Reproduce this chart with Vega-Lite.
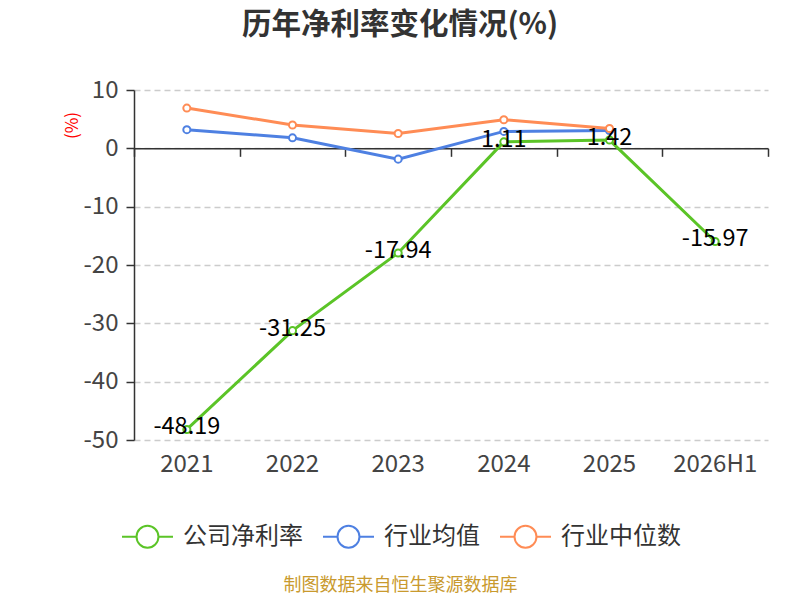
{
  "$schema": "https://vega.github.io/schema/vega-lite/v6.json",
  "width": 634,
  "height": 350,
  "autosize": {"type": "none"},
  "padding": {"left": 134, "top": 90, "right": 32, "bottom": 160},
  "config": {
    "font": "Noto Sans CJK SC",
    "view": {"stroke": null}
  },
  "title": {
    "text": "历年净利率变化情况(%)",
    "fontSize": 29.5,
    "fontWeight": "bold",
    "color": "#333333",
    "anchor": "middle",
    "frame": "group",
    "dx": -51,
    "offset": 38
  },
  "data": {
    "values": [
      {"year": "2021", "series": "公司净利率", "value": -48.19},
      {"year": "2022", "series": "公司净利率", "value": -31.25},
      {"year": "2023", "series": "公司净利率", "value": -17.94},
      {"year": "2024", "series": "公司净利率", "value": 1.11},
      {"year": "2025", "series": "公司净利率", "value": 1.42},
      {"year": "2026H1", "series": "公司净利率", "value": -15.97},
      {"year": "2021", "series": "行业均值", "value": 3.2},
      {"year": "2022", "series": "行业均值", "value": 1.8},
      {"year": "2023", "series": "行业均值", "value": -1.85},
      {"year": "2024", "series": "行业均值", "value": 2.9},
      {"year": "2025", "series": "行业均值", "value": 3.05},
      {"year": "2021", "series": "行业中位数", "value": 6.9},
      {"year": "2022", "series": "行业中位数", "value": 4.0},
      {"year": "2023", "series": "行业中位数", "value": 2.55},
      {"year": "2024", "series": "行业中位数", "value": 4.9},
      {"year": "2025", "series": "行业中位数", "value": 3.4}
    ]
  },
  "layer": [
    {
      "mark": {"type": "line", "strokeWidth": 3},
      "encoding": {
        "x": {
          "field": "year",
          "type": "nominal",
          "sort": null,
          "scale": {"type": "band", "paddingInner": 0, "paddingOuter": 0},
          "axis": {
            "orient": "bottom",
            "domain": false,
            "ticks": false,
            "grid": false,
            "labelAngle": 0,
            "labelFontSize": 24,
            "labelColor": "#444444",
            "labelPadding": 12,
            "title": "制图数据来自恒生聚源数据库",
            "titleColor": "#C99A2E",
            "titleFontSize": 18,
            "titleFontWeight": "normal",
            "titleX": 266,
            "titleY": 136,
            "titleAlign": "center",
            "titleBaseline": "top"
          }
        },
        "y": {
          "field": "value",
          "type": "quantitative",
          "scale": {"domain": [-50, 10], "nice": false, "zero": false},
          "axis": {
            "values": [10, 0, -10, -20, -30, -40, -50],
            "labelExpr": "replace(datum.label, '−', '-')",
            "domain": true,
            "domainColor": "#333333",
            "domainWidth": 1.5,
            "ticks": true,
            "tickSize": 8,
            "tickColor": "#333333",
            "tickWidth": 1.5,
            "labelFontSize": 24,
            "labelColor": "#444444",
            "labelPadding": 8,
            "grid": true,
            "gridDash": [6, 4],
            "gridColor": "#cccccc",
            "gridWidth": 1.5,
            "title": "(%)",
            "titleColor": "red",
            "titleFontSize": 17,
            "titleFontWeight": "normal",
            "titleX": -62,
            "titleY": 35,
            "titleAlign": "center",
            "titleBaseline": "middle"
          }
        },
        "color": {
          "field": "series",
          "type": "nominal",
          "sort": ["公司净利率", "行业均值", "行业中位数"],
          "scale": {
            "domain": ["公司净利率", "行业均值", "行业中位数"],
            "range": ["#5BC427", "#4E80E2", "#FF8C55"]
          },
          "legend": {
            "orient": "none",
            "legendX": -13,
            "legendY": 420,
            "direction": "horizontal",
            "gridAlign": "each",
            "title": null,
            "padding": 0,
            "labelFontSize": 24,
            "labelColor": "#333333",
            "labelOffset": 9,
            "columnPadding": 16,
            "symbolType": "M-1,0L-0.43,0M0.43,0L1,0M0.43,0A0.43,0.43,0,1,1,-0.43,0A0.43,0.43,0,1,1,0.43,0",
            "symbolSize": 2601,
            "symbolStrokeWidth": 2,
            "symbolFillColor": "white"
          }
        }
      }
    },
    {
      "mark": {"type": "point", "filled": false, "fill": "white", "size": 50, "strokeWidth": 2, "opacity": 1},
      "encoding": {
        "x": {
          "field": "year",
          "type": "nominal",
          "sort": null,
          "axis": {
            "orient": "top",
            "offset": -58.33,
            "labels": false,
            "domain": true,
            "domainColor": "#333333",
            "domainWidth": 1.5,
            "ticks": true,
            "tickBand": "extent",
            "tickSize": -8,
            "tickColor": "#333333",
            "tickWidth": 1.5,
            "grid": false,
            "title": null
          }
        },
        "y": {"field": "value", "type": "quantitative"},
        "color": {"field": "series", "type": "nominal"}
      }
    },
    {
      "transform": [{"filter": "datum.series === '公司净利率'"}],
      "mark": {"type": "text", "fontSize": 23.5, "color": "black", "dy": -2},
      "encoding": {
        "x": {"field": "year", "type": "nominal", "sort": null, "axis": null},
        "y": {"field": "value", "type": "quantitative"},
        "text": {"field": "value", "type": "nominal"}
      }
    }
  ],
  "resolve": {"axis": {"x": "independent"}}
}
